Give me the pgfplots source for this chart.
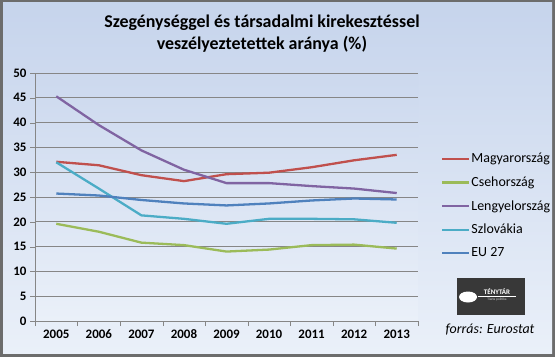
\documentclass[border=0pt]{standalone}
\usepackage{pgfplots}
\pgfplotsset{compat=1.18}
\usepackage{fontspec}
\setmainfont{Carlito}
\definecolor{cHU}{HTML}{C0504D}
\definecolor{cCZ}{HTML}{9BBB59}
\definecolor{cPL}{HTML}{8064A2}
\definecolor{cSK}{HTML}{4BACC6}
\definecolor{cEU}{HTML}{4F81BD}
\definecolor{bgtop}{HTML}{C6D4EC}
\definecolor{bgbot}{HTML}{EAF0F9}
\definecolor{gridc}{HTML}{868686}
\begin{document}
\begin{tikzpicture}[x=1bp,y=1bp]
\fill[gray!85!black] (0,0) rectangle (555,357);
\shade[top color=bgtop, bottom color=bgbot] (3,4) rectangle (552,354);
\node[align=center, font=\fontsize{18}{22}\selectfont\bfseries] at (262,323.5)
  {Szegénységgel és társadalmi kirekesztéssel\\veszélyeztetettek aránya (\%)};
\begin{axis}[
  at={(35bp,36bp)}, anchor=south west,
  scale only axis, width=383bp, height=248bp,
  xmin=-0.5, xmax=8.5, ymin=0, ymax=50,
  xtick={0,...,8},
  xticklabels={2005,2006,2007,2008,2009,2010,2011,2012,2013},
  minor xtick={-0.5,0.5,...,8.5},
  ytick={0,5,...,50},
  axis x line*=bottom, axis y line*=left,
  axis line style={draw=gridc, -},
  tick align=outside,
  major tick length=5bp, minor tick length=5bp,
  xtick style={draw=none},
  minor x tick style={draw=gridc},
  ytick style={draw=gridc},
  ymajorgrids, grid style={draw=gridc, line width=0.8pt},
  ticklabel style={font=\fontsize{13}{15}\selectfont\bfseries},
  /pgf/number format/assume math mode=true,
  axis background/.style={shade, top color=bgtop!90!white, bottom color=bgbot},
  every axis plot/.append style={line width=2.3pt, no markers},
  legend cell align=left,
  legend style={at={(1.052,0.464)}, anchor=west, draw=none, fill=none,
    font=\fontsize{14}{16}\selectfont, row sep=8.5bp,
    nodes={inner xsep=1bp}},
  legend image code/.code={\draw[#1] (0bp,0bp) -- (27bp,0bp);},
  clip=false,
]
\addplot[cHU] coordinates {(0,32.1)(1,31.4)(2,29.4)(3,28.2)(4,29.6)(5,29.9)(6,31.0)(7,32.4)(8,33.5)};
\addlegendentry{Magyarország}
\addplot[cCZ] coordinates {(0,19.6)(1,18.0)(2,15.8)(3,15.3)(4,14.0)(5,14.4)(6,15.3)(7,15.4)(8,14.6)};
\addlegendentry{Csehország}
\addplot[cPL] coordinates {(0,45.3)(1,39.5)(2,34.4)(3,30.5)(4,27.8)(5,27.8)(6,27.2)(7,26.7)(8,25.8)};
\addlegendentry{Lengyelország}
\addplot[cSK] coordinates {(0,32.0)(1,26.7)(2,21.3)(3,20.6)(4,19.6)(5,20.6)(6,20.6)(7,20.5)(8,19.8)};
\addlegendentry{Szlovákia}
\addplot[cEU] coordinates {(0,25.7)(1,25.3)(2,24.4)(3,23.7)(4,23.3)(5,23.7)(6,24.3)(7,24.7)(8,24.5)};
\addlegendentry{EU 27}
\end{axis}
% logo
\fill[black!78] (457,42) rectangle (525,79);
\fill[white] (468,60) ellipse (9 and 5.5);
\node[white, font=\fontsize{7}{8}\selectfont\bfseries, inner sep=0] at (497,65) {TÉNYTÁR};
\draw[white, line width=0.5pt] (478,61) -- (516,61);
\node[white!80!black, font=\fontsize{3.5}{4}\selectfont, inner sep=0] at (497,57) {Tiszta politika};
\node[font=\fontsize{14}{16}\selectfont\itshape] at (490,27) {forrás: Eurostat};
\end{tikzpicture}
\end{document}
